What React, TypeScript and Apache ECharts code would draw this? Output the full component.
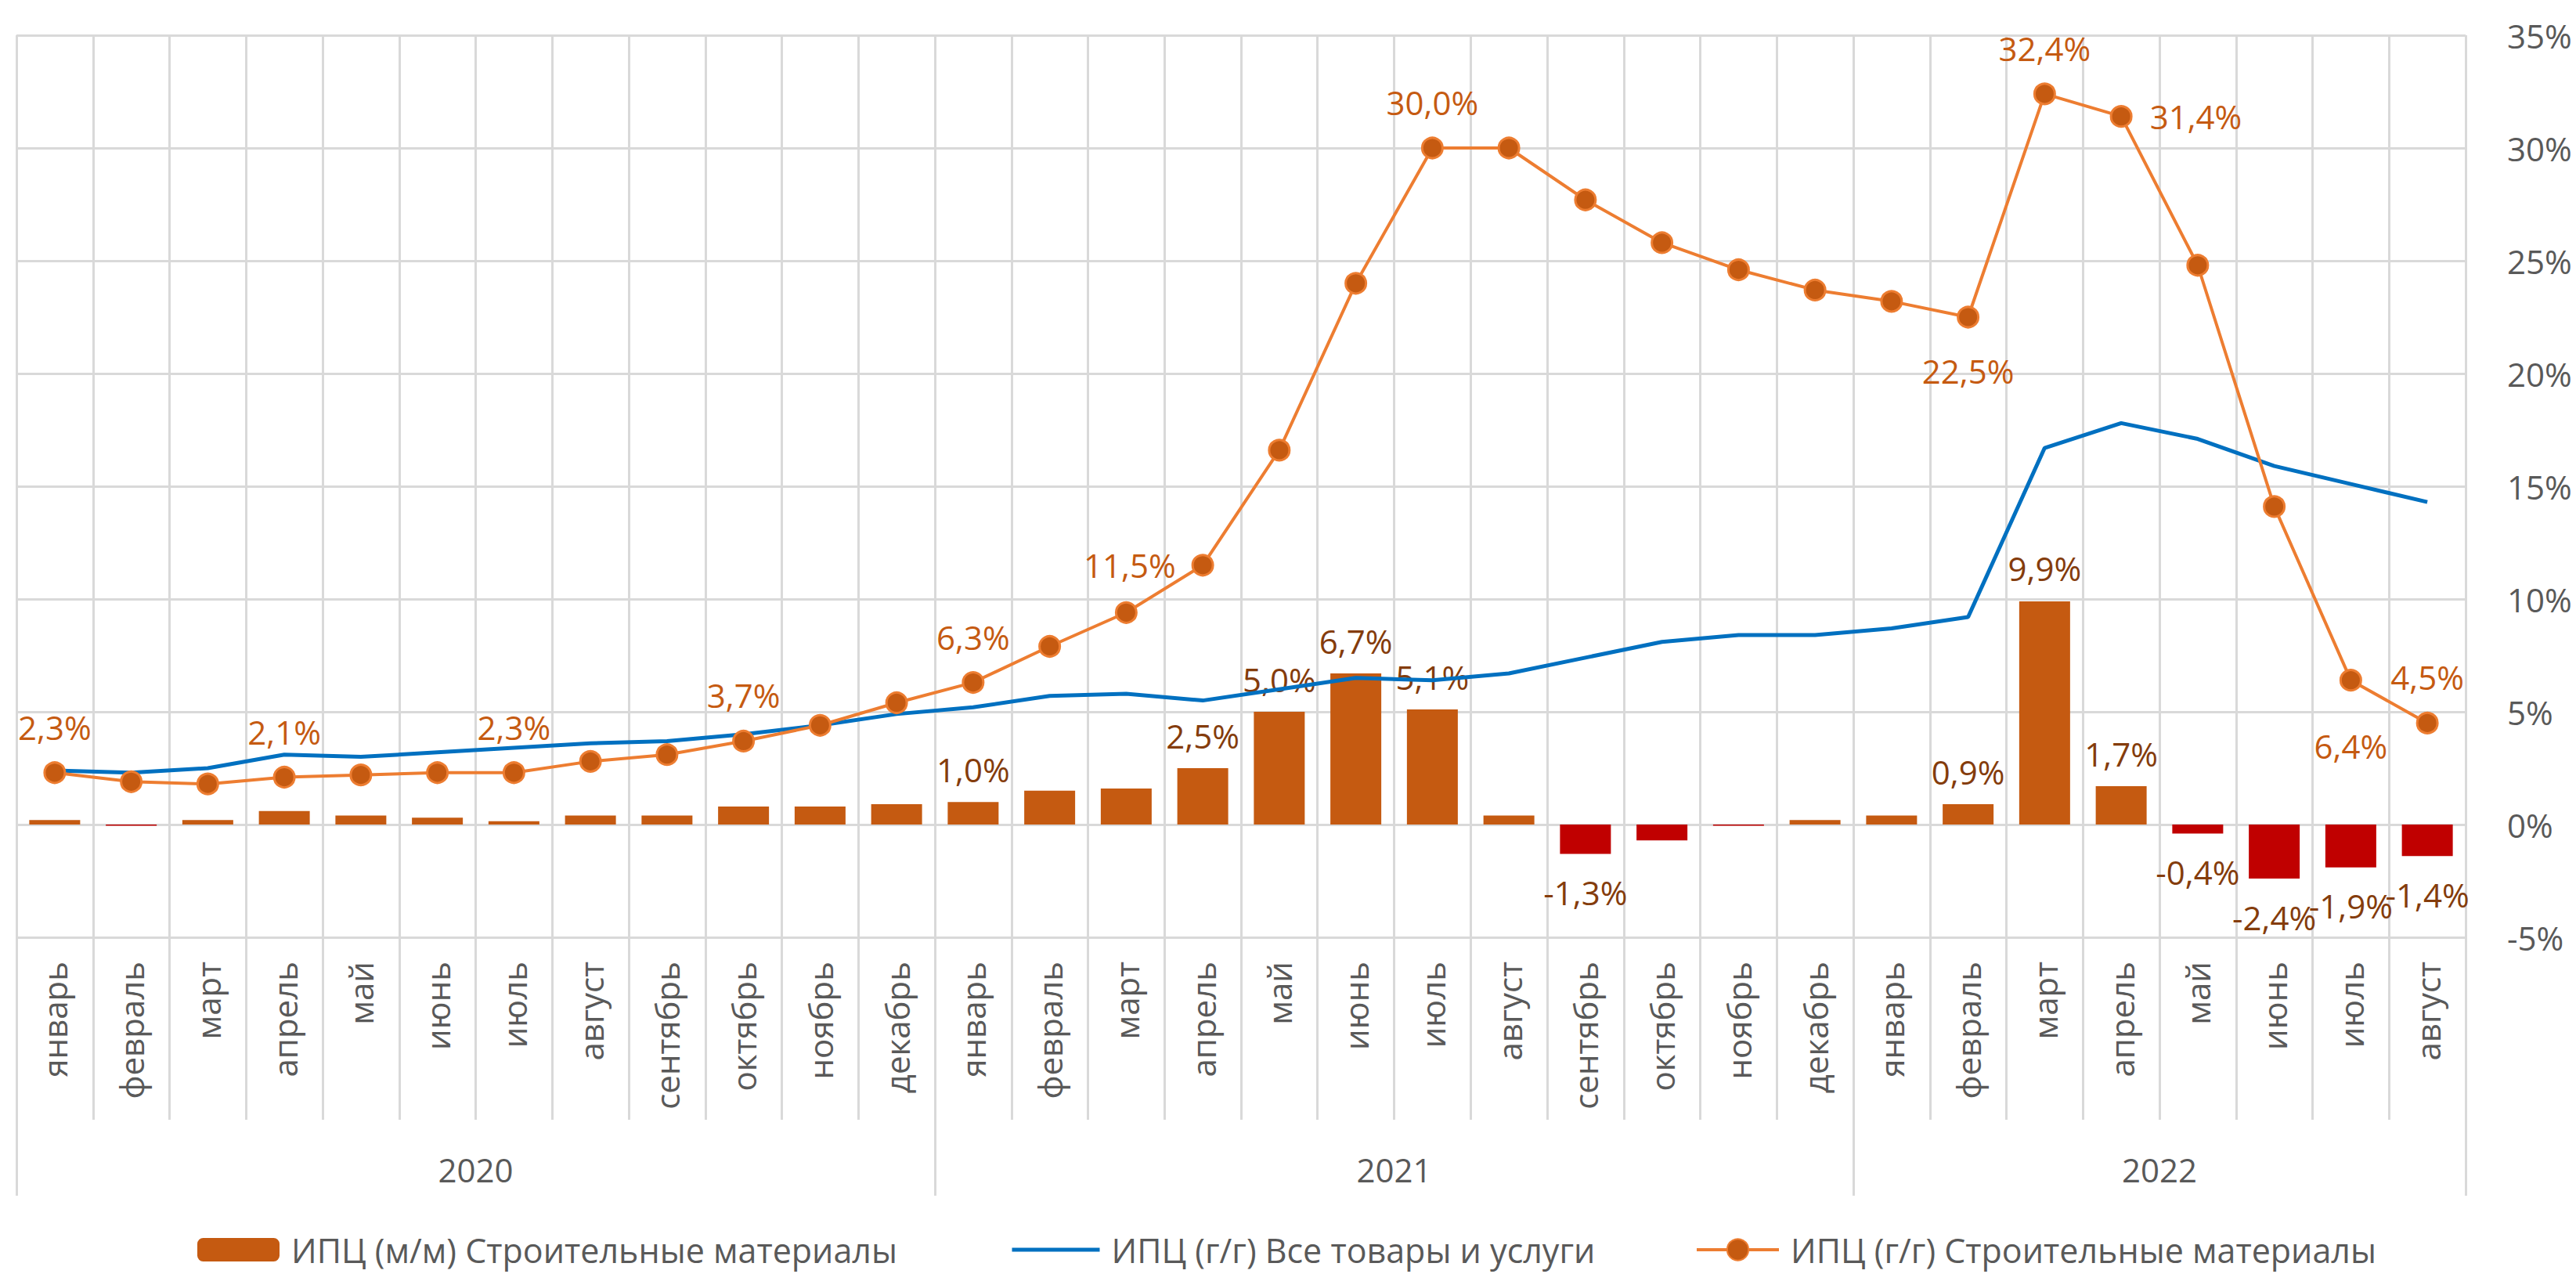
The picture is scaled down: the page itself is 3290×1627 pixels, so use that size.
import React, { useEffect, useRef } from "react";
import * as echarts from "echarts";

const monthNames = [
  "январь", "февраль", "март", "апрель", "май", "июнь", "июль", "август",
  "сентябрь", "октябрь", "ноябрь", "декабрь",
  "январь", "февраль", "март", "апрель", "май", "июнь", "июль", "август",
  "сентябрь", "октябрь", "ноябрь", "декабрь",
  "январь", "февраль", "март", "апрель", "май", "июнь", "июль", "август",
];
const years = ["2020", "2021", "2022"];
const yearMonthCounts = [12, 12, 8];

// ИПЦ (м/м) Строительные материалы
const mmBuild = [
  0.2, -0.05, 0.2, 0.6, 0.4, 0.3, 0.15, 0.4, 0.4, 0.8, 0.8, 0.9,
  1.0, 1.5, 1.6, 2.5, 5.0, 6.7, 5.1, 0.4, -1.3, -0.7, -0.05, 0.2,
  0.4, 0.9, 9.9, 1.7, -0.4, -2.4, -1.9, -1.4,
];
// ИПЦ (г/г) Все товары и услуги
const yyAll = [
  2.4, 2.3, 2.5, 3.1, 3.0, 3.2, 3.4, 3.6, 3.7, 4.0, 4.4, 4.9,
  5.2, 5.7, 5.8, 5.5, 6.0, 6.5, 6.4, 6.7, 7.4, 8.1, 8.4, 8.4,
  8.7, 9.2, 16.7, 17.8, 17.1, 15.9, 15.1, 14.3,
];
// ИПЦ (г/г) Строительные материалы
const yyBuild = [
  2.3, 1.9, 1.8, 2.1, 2.2, 2.3, 2.3, 2.8, 3.1, 3.7, 4.4, 5.4,
  6.3, 7.9, 9.4, 11.5, 16.6, 24.0, 30.0, 30.0, 27.7, 25.8, 24.6, 23.7,
  23.2, 22.5, 32.4, 31.4, 24.8, 14.1, 6.4, 4.5,
];
const yTicks = { min: -5, max: 35, step: 5 };

const mmLabeled = [12, 15, 16, 17, 18, 20, 25, 26, 27, 28, 29, 30, 31];
const yyLabeled = [0, 3, 6, 9, 12, 15, 18, 25, 26, 27, 30, 31];

const SERIES_MM = "ИПЦ (м/м) Строительные материалы";
const SERIES_ALL = "ИПЦ (г/г) Все товары и услуги";
const SERIES_YY = "ИПЦ (г/г) Строительные материалы";

const fmt = (v: number) => v.toFixed(1).replace(".", ",") + "%";

export default function App() {
  const ref = useRef<HTMLDivElement>(null);

  useEffect(() => {
    document.body.style.margin = "0";
    if (!ref.current) return;
    const chart = echarts.init(ref.current, undefined, { renderer: "svg" });

    const GRID = "#D9D9D9";
    const TXT = "#595959";
    const FONT = "'Open Sans', sans-serif";

    // year axis boundaries and centers
    const bounds: number[] = [0];
    yearMonthCounts.forEach((c) => bounds.push(bounds[bounds.length - 1] + c));
    const centers = yearMonthCounts.map((c, i) => bounds[i] + c / 2);

    // label placements for the y/y construction line (layout, not data)
    const yyLabelPlace: Record<number, { position: string; distance: number }> = {
      15: { position: "left", distance: 20 },
      25: { position: "bottom", distance: 33 },
      27: { position: "right", distance: 22 },
      30: { position: "bottom", distance: 48 },
    };

    const barData = mmBuild.map((v, i) => ({
      value: v,
      itemStyle: { color: v < 0 ? "#C00000" : "#C55A11" },
      label: {
        show: mmLabeled.includes(i),
        position: v < 0 ? "bottom" : "top",
        distance: v < 0 ? 28 : 21,
      },
    }));

    const yyData = yyBuild.map((v, i) => {
      if (!yyLabeled.includes(i)) return v;
      const p = yyLabelPlace[i] || { position: "top", distance: 23 };
      return { value: v, label: { show: true, position: p.position, distance: p.distance } };
    });

    const legendText = {
      color: TXT, fontSize: 43, fontFamily: FONT, lineHeight: 44, padding: [0, 0, 0, 10],
    };

    chart.setOption({
      animation: false,
      textStyle: { fontFamily: FONT },
      grid: { left: 21, right: 141, top: 45, bottom: 430, containLabel: false },
      legend: [
        {
          data: [SERIES_MM], left: 252, bottom: 9, itemWidth: 105, itemHeight: 30,
          textStyle: legendText, selectedMode: false, padding: 0,
        },
        {
          data: [{ name: SERIES_ALL, itemStyle: { opacity: 0 } }],
          left: 1290, bottom: 9, itemWidth: 112, itemHeight: 30,
          lineStyle: { color: "#0070C0", width: 5 },
          textStyle: legendText, selectedMode: false, padding: 0,
        },
        {
          data: [SERIES_YY], left: 2165, bottom: 9, itemWidth: 105, itemHeight: 34,
          lineStyle: { color: "#ED7D31", width: 4 },
          textStyle: legendText, selectedMode: false, padding: 0,
        },
      ],
      xAxis: [
        {
          type: "category",
          data: monthNames,
          position: "bottom",
          boundaryGap: true,
          axisLine: { show: false, onZero: false },
          axisTick: { show: true, interval: 0, length: 233, lineStyle: { color: GRID, width: 3 } },
          splitLine: { show: true, interval: 0, lineStyle: { color: GRID, width: 3 } },
          axisLabel: {
            interval: 0, rotate: 90, margin: 31, color: TXT, fontSize: 42, fontFamily: FONT,
          },
        },
        {
          type: "value",
          min: 0,
          max: bounds[bounds.length - 1],
          position: "bottom",
          axisLine: { show: false, onZero: false },
          splitLine: { show: false },
          axisTick: {
            show: true, customValues: bounds, length: 330, lineStyle: { color: GRID, width: 3 },
          },
          axisLabel: {
            show: true,
            customValues: centers,
            formatter: (v: number) => {
              const k = centers.findIndex((c) => Math.abs(c - v) < 1e-6);
              return k >= 0 ? years[k] : "";
            },
            margin: 275, color: TXT, fontSize: 42, fontFamily: FONT,
          },
        },
      ],
      yAxis: {
        type: "value",
        position: "right",
        min: yTicks.min,
        max: yTicks.max,
        interval: yTicks.step,
        axisLine: { show: false },
        axisTick: { show: false },
        splitLine: { show: true, lineStyle: { color: GRID, width: 3 } },
        axisLabel: { formatter: "{value}%", margin: 53, color: TXT, fontSize: 42, fontFamily: FONT },
      },
      series: [
        {
          name: SERIES_MM,
          type: "bar",
          xAxisIndex: 0,
          barWidth: 65,
          itemStyle: { color: "#C55A11" },
          label: {
            color: "#843C0C", fontSize: 42, fontFamily: FONT,
            formatter: (p: any) => fmt(p.value),
          },
          data: barData,
          z: 2,
        },
        {
          name: SERIES_ALL,
          type: "line",
          xAxisIndex: 0,
          symbol: "none",
          showSymbol: false,
          lineStyle: { color: "#0070C0", width: 5 },
          itemStyle: { color: "#0070C0" },
          data: yyAll,
          z: 3,
        },
        {
          name: SERIES_YY,
          type: "line",
          xAxisIndex: 0,
          symbol: "circle",
          symbolSize: 26,
          lineStyle: { color: "#ED7D31", width: 4 },
          itemStyle: { color: "#C55A11", borderColor: "#ED7D31", borderWidth: 3 },
          label: {
            color: "#C55A11", fontSize: 42, fontFamily: FONT,
            formatter: (p: any) => fmt(p.value),
          },
          data: yyData,
          z: 4,
        },
      ],
    });

    return () => chart.dispose();
  }, []);

  return <div ref={ref} style={{ width: 3290, height: 1627 }} />;
}
